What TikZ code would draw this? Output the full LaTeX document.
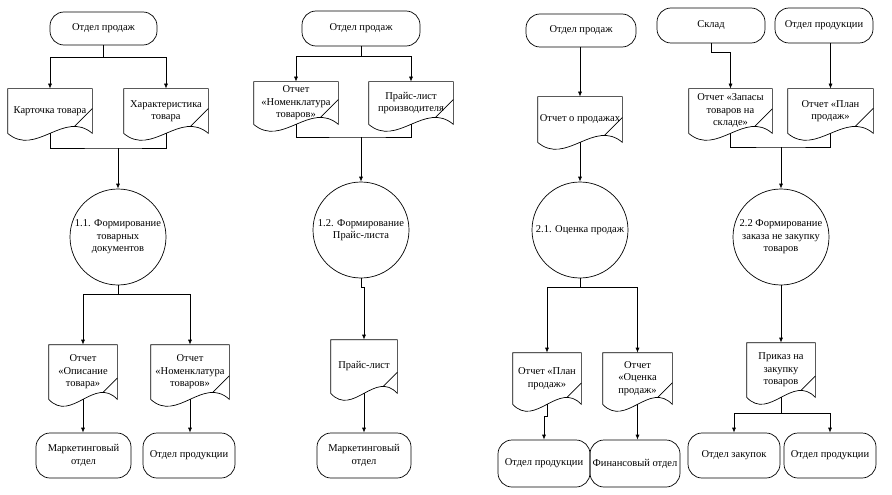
\documentclass[tikz,border=0pt]{standalone}
\usepackage{fontspec}
\setmainfont{Liberation Serif}
\usetikzlibrary{arrows.meta,calc}

\tikzset{
  term/.style 2 args={draw, rectangle, rounded corners=14pt, align=center,
    inner sep=1pt, minimum width=#1pt, minimum height=#2pt},
  proc/.style={draw, circle, minimum size=96pt, inner sep=0pt, align=center},
  docum/.style 2 args={rectangle, align=center, inner sep=1pt,
    minimum width=#1pt, minimum height=#2pt,
    append after command={\pgfextra{%
      \draw (\tikzlastnode.south west) -- (\tikzlastnode.north west)
        -- (\tikzlastnode.north east) -- (\tikzlastnode.south east)
        .. controls ($(\tikzlastnode.south east)!1/3!(\tikzlastnode.south west)+(0,-24)$)
        and ($(\tikzlastnode.south east)!2/3!(\tikzlastnode.south west)+(0,24)$)
        .. (\tikzlastnode.south west) coordinate[pos=0.211] (crest);
      \draw (crest) -- ($(crest)!1.4142!45:(crest -| \tikzlastnode.east)$);
    }}},
  arr/.style={-{Latex[length=5pt,width=4pt]}}
}

\begin{document}
\begin{tikzpicture}[x=1pt,y=-1pt,line width=0.7pt,
    font=\fontsize{10.5}{12.5}\selectfont]
  \useasboundingbox (0,0) rectangle (892,495);

  % 1.1
  \node[term={107}{33}] (t11) at (103.5,28.5) {Отдел продаж};
  \node[docum={84}{44}] (d11) at (50,111) {Карточка товара};
  \node[docum={84}{44}] (d12) at (166,111) {Характеристика\\товара};
  \node[proc] (c1) at (118,237) {1.1. Формирование\\товарных\\документов};
  \node[docum={68}{54}] (d13) at (83,372) {Отчет\\«Описание\\товара»};
  \node[docum={78}{54}] (d14) at (190,372) {Отчет\\«Номенклатура\\товаров»};
  \node[term={95}{45}] (t12) at (83.5,455.5) {Маркетинговый\\отдел};
  \node[term={92}{45}] (t13) at (189,455.5) {Отдел продукции};

  \draw (t11.south) -- ++(0,12) coordinate (s11);
  \draw[arr] (s11) -| (d11.north);
  \draw[arr] (s11) -| (d12.north);
  \coordinate (m11) at (118,148);
  \draw (d11.south) |- (m11) -| (d12.south);
  \draw[arr] (m11) -- (c1.north);
  \draw (c1.south) -- ++(0,9) coordinate (s12);
  \draw[arr] (s12) -| (d13.north);
  \draw[arr] (s12) -| (d14.north);
  \draw[arr] (d13.south) -- (d13.south |- t12.north);
  \draw[arr] (d14.south) -- (d14.south |- t13.north);

  % 1.2
  \node[term={118}{35}] (t21) at (361,28.5) {Отдел продаж};
  \node[docum={84}{42}] (d21) at (296,103) {Отчет\\«Номенклатура\\товаров»};
  \node[docum={84}{42}] (d22) at (411,103) {Прайс-лист\\производителя};
  \node[proc] (c2) at (361,230) {1.2. Формирование\\Прайс-листа};
  \node[docum={66}{53}] (d23) at (364,366.5) {Прайс-лист};
  \node[term={94}{45}] (t22) at (364,455.5) {Маркетинговый\\отдел};

  \draw (t21.south) -- ++(0,10) coordinate (s21);
  \draw[arr] (s21) -| (d21.north);
  \draw[arr] (s21) -| (d22.north);
  \coordinate (m21) at (361,137);
  \draw (d21.south) |- (m21) -| (d22.south);
  \draw[arr] (m21) -- (c2.north);
  \draw[arr] (c2.south) -- ++(0,9) -| (d23.north);
  \draw[arr] (d23.south) -- (t22.north);

  % 2.1
  \node[term={110}{33}] (t31) at (581,30.5) {Отдел продаж};
  \node[docum={84}{45}] (d31) at (580,119.5) {Отчет о продажах};
  \node[proc] (c3) at (580,230) {2.1. Оценка продаж};
  \node[docum={68}{51}] (d32) at (547,378.5) {Отчет «План\\продаж»};
  \node[docum={69}{51}] (d33) at (637.5,378.5) {Отчет\\«Оценка\\продаж»};
  \node[term={92}{47}] (t32) at (544,463.5) {Отдел продукции};
  \node[term={90}{47}] (t33) at (635,463.5) {Финансовый отдел};

  \draw[arr] (d31.north |- t31.south) -- (d31.north);
  \draw[arr] (d31.south) -- (c3.north);
  \draw (c3.south) -- ++(0,9) coordinate (s31);
  \draw[arr] (s31) -| (d32.north);
  \draw[arr] (s31) -| (d33.north);
  \draw[arr] (d32.south) -- ++(0,12) -| (t32.north);
  \draw[arr] (d33.south) -- (d33.south |- t33.north);

  % 2.2
  \node[term={108}{35}] (t41) at (711,25.5) {Склад};
  \node[term={98}{35}] (t42) at (824,25.5) {Отдел продукции};
  \node[docum={83}{44}] (d41) at (730.5,111) {Отчет «Запасы\\товаров на\\складе»};
  \node[docum={85}{44}] (d42) at (830.5,111) {Отчет «План\\продаж»};
  \node[proc] (c4) at (781,237) {2.2 Формирование\\заказа не закупку\\товаров};
  \node[docum={68}{54}] (d43) at (781,370) {Приказ на\\закупку\\товаров};
  \node[term={92}{45}] (t43) at (734,455.5) {Отдел закупок};
  \node[term={92}{45}] (t44) at (830,455.5) {Отдел продукции};

  \draw[arr] (t41.south) -- ++(0,9) -| (d41.north);
  \draw[arr] (d42.north |- t42.south) -- (d42.north);
  \coordinate (m41) at (781,147);
  \draw (d41.south) |- (m41) -| (d42.south);
  \draw[arr] (m41) -- (c4.north);
  \draw[arr] (c4.south) -- (d43.north);
  \draw (d43.south) -- ++(0,16) coordinate (s41);
  \draw[arr] (s41) -| (t43.north);
  \draw[arr] (s41) -| (t44.north);
\end{tikzpicture}
\end{document}
